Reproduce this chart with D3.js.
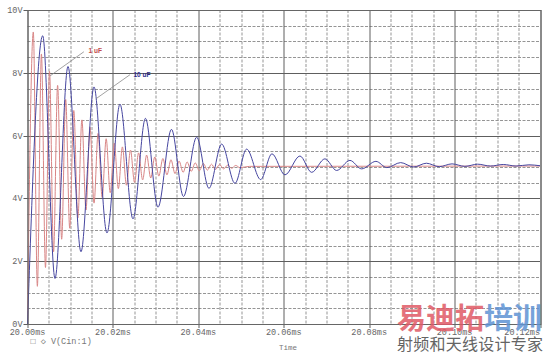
<!DOCTYPE html>
<meta charset="utf-8">
<script src="https://d3js.org/d3.v7.min.js"></script>
<style>
  html, body { margin: 0; padding: 0; background: #fff; }
  svg { display: block; }
</style>
<body>
<div id="my_dataviz"></div>
<script>
  // time in microseconds after 20.00ms, voltage in volts (peaks and troughs)
  var blueTime = [0, 3.56, 6.44, 9.48, 12.52, 15.57, 18.61, 21.65, 24.70, 27.62, 30.55, 33.71, 36.52,
    39.61, 42.49, 45.46, 48.58, 51.31, 54.59, 57.24, 60.28, 63.79, 66.53, 69.64, 72.38, 75.50, 78.24,
    81.58, 84.16, 87.37, 90.40, 93.40, 96.40, 99.40, 102.40, 105.40, 108.40, 111.40, 114.40, 117.40, 120];
  var blueVolt = [0, 9.18, 1.45, 8.20, 2.30, 7.55, 2.90, 7.00, 3.35, 6.55, 3.72, 6.20, 4.06,
    5.95, 4.32, 5.73, 4.48, 5.57, 4.60, 5.42, 4.75, 5.35, 4.83, 5.26, 4.89, 5.21, 4.94,
    5.18, 4.98, 5.14, 5.00, 5.12, 5.01, 5.10, 5.02, 5.09, 5.03, 5.08, 5.03, 5.07, 5.04];

  var redTime = [0, 1.36, 2.31, 3.26, 4.21, 5.15, 6.10, 7.05, 8.00, 8.94, 9.89, 10.84, 11.79, 12.74, 13.69,
    14.63, 15.58, 16.53, 17.48, 18.42, 19.37, 20.32, 21.27, 22.22, 23.17, 24.11, 25.06, 26.01, 26.96,
    27.90, 28.85, 29.80, 30.75, 31.70, 32.65, 33.59, 34.54, 35.49, 36.44, 37.38, 38.33, 39.28, 40.23,
    41.18, 42.13, 43.07, 44.02, 44.97, 45.92, 46.86, 47.81, 48.76, 49.71, 52, 120];
  var redVolt = [0, 9.30, 1.20, 8.60, 1.80, 8.05, 2.30, 7.60, 2.70, 7.15, 3.05, 6.80, 3.38, 6.50, 3.63,
    6.27, 3.85, 6.07, 4.03, 5.90, 4.18, 5.76, 4.31, 5.64, 4.42, 5.54, 4.51, 5.45, 4.59,
    5.38, 4.65, 5.32, 4.71, 5.27, 4.75, 5.23, 4.79, 5.19, 4.83, 5.16, 4.86, 5.13, 4.88,
    5.11, 4.90, 5.09, 4.92, 5.08, 4.94, 5.06, 4.96, 5.05, 4.98, 5.02, 5.03];

  var xTicks = [0, 20, 40, 60, 80, 100, 120];
  var xTickLabels = ["20.00ms", "20.02ms", "20.04ms", "20.06ms", "20.08ms", "20.10ms", "20.12ms"];
  var yTicks = [0, 2, 4, 6, 8, 10];
  var yTickLabels = ["0V", "2V", "4V", "6V", "8V", "10V"];

  var W = 550, H = 356;
  var margin = { top: 10, right: 10, bottom: 32, left: 27.5 },
    width = W - margin.left - margin.right,
    height = H - margin.top - margin.bottom;

  var svg = d3.select("#my_dataviz")
    .append("svg")
    .attr("width", W)
    .attr("height", H)
    .append("g")
    .attr("transform", "translate(" + margin.left + "," + margin.top + ")");

  var x = d3.scaleLinear().domain([0, 120]).range([0, width]);
  var y = d3.scaleLinear().domain([0, 10]).range([height, 0]);

  var minorColor = "#959595", majorColor = "#5e5e5e";

  // minor dashed grid
  svg.append("g").selectAll("line")
    .data(d3.range(0, 120.01, 5).filter(function (d) { return d % 20 != 0; }))
    .enter().append("line")
    .attr("x1", function (d) { return Math.round(x(d)) + 0.5; })
    .attr("x2", function (d) { return Math.round(x(d)) + 0.5; })
    .attr("y1", 0).attr("y2", height)
    .attr("stroke", minorColor).attr("stroke-width", 1)
    .attr("stroke-dasharray", "3,1.5");
  svg.append("g").selectAll("line")
    .data(d3.range(0, 10.01, 0.5).filter(function (d) { return d % 2 != 0; }))
    .enter().append("line")
    .attr("y1", function (d) { return Math.round(y(d)) + 0.5; })
    .attr("y2", function (d) { return Math.round(y(d)) + 0.5; })
    .attr("x1", 0).attr("x2", width)
    .attr("stroke", minorColor).attr("stroke-width", 1)
    .attr("stroke-dasharray", "3,1.5");

  // major solid grid
  svg.append("g").selectAll("line")
    .data(xTicks)
    .enter().append("line")
    .attr("x1", function (d) { return Math.round(x(d)) + 0.5; })
    .attr("x2", function (d) { return Math.round(x(d)) + 0.5; })
    .attr("y1", 0).attr("y2", height + 4)
    .attr("stroke", majorColor).attr("stroke-width", 1);
  svg.append("g").selectAll("line")
    .data(yTicks)
    .enter().append("line")
    .attr("y1", function (d) { return Math.round(y(d)) + 0.5; })
    .attr("y2", function (d) { return Math.round(y(d)) + 0.5; })
    .attr("x1", -4).attr("x2", width)
    .attr("stroke", majorColor).attr("stroke-width", 1);

  // tick labels
  svg.append("g").selectAll("text")
    .data(xTicks)
    .enter().append("text")
    .attr("x", function (d) { return x(d); })
    .attr("y", height + 11)
    .attr("text-anchor", function (d, i) { return i == xTicks.length - 1 ? "end" : "middle"; })
    .style("font-family", "Liberation Mono, monospace")
    .style("font-size", "8.5px")
    .style("fill", "#666")
    .text(function (d, i) { return xTickLabels[i]; });

  svg.append("g").selectAll("text")
    .data(yTicks)
    .enter().append("text")
    .attr("x", -5)
    .attr("y", function (d) { return y(d) + 3; })
    .attr("text-anchor", "end")
    .style("font-family", "Liberation Mono, monospace")
    .style("font-size", "8.5px")
    .style("fill", "#666")
    .text(function (d, i) { return yTickLabels[i]; });

  // traces
  var line = d3.line()
    .x(function (d) { return x(d[0]); })
    .y(function (d) { return y(d[1]); })
    .curve(d3.curveMonotoneX);

  svg.append("path")
    .datum(redTime.map(function (t, i) { return [t, redVolt[i]]; }))
    .attr("d", line)
    .attr("fill", "none")
    .attr("stroke", "#d98686")
    .attr("stroke-width", 1);

  svg.append("path")
    .datum(blueTime.map(function (t, i) { return [t, blueVolt[i]]; }))
    .attr("d", line)
    .attr("fill", "none")
    .attr("stroke", "#4646a0")
    .attr("stroke-width", 1);

  // annotations
  svg.append("line")
    .attr("x1", x(5.27)).attr("y1", y(7.9))
    .attr("x2", x(13.2)).attr("y2", y(8.67))
    .attr("stroke", "#8a8a8a").attr("stroke-width", 0.8);
  svg.append("text")
    .attr("x", x(14.3)).attr("y", y(8.62))
    .style("font-family", "Liberation Sans, Arial, sans-serif")
    .style("font-size", "6.5px").style("font-weight", "bold")
    .style("fill", "#c04a4a")
    .text("1 uF");

  svg.append("line")
    .attr("x1", x(16.0)).attr("y1", y(7.17))
    .attr("x2", x(24.0)).attr("y2", y(7.94))
    .attr("stroke", "#8a8a8a").attr("stroke-width", 0.8);
  svg.append("text")
    .attr("x", x(24.8)).attr("y", y(7.88))
    .style("font-family", "Liberation Sans, Arial, sans-serif")
    .style("font-size", "6.5px").style("font-weight", "bold")
    .style("fill", "#2a2a8a")
    .text("10 uF");

  // plot frame
  svg.append("rect")
    .attr("x", 0.5).attr("y", 0.5)
    .attr("width", Math.round(width)).attr("height", Math.round(height))
    .attr("fill", "none").attr("stroke", "#666").attr("stroke-width", 1);

  // legend and axis title
  svg.append("text")
    .attr("x", 3).attr("y", height + 20)
    .style("font-family", "Liberation Mono, monospace")
    .style("font-size", "8.5px").style("fill", "#777")
    .text("\u25A1 \u25C7 V(Cin:1)");

  svg.append("text")
    .attr("x", x(61)).attr("y", height + 26)
    .attr("text-anchor", "middle")
    .style("font-family", "Liberation Mono, monospace")
    .style("font-size", "7.5px").style("fill", "#777")
    .text("Time");

  // watermark
  var wm = d3.select("svg").append("g").attr("opacity", 0.85);
  var big = wm.append("text")
    .attr("x", 397).attr("y", 329)
    .style("font-family", "Noto Sans CJK SC")
    .style("font-size", "29px").style("font-weight", "bold");
  big.append("tspan").style("fill", "#e05a66").text("易迪拓");
  big.append("tspan").style("fill", "#5f93d4").text("培训");
  wm.append("text")
    .attr("x", 397).attr("y", 350)
    .attr("textLength", 146)
    .style("font-family", "Noto Sans CJK SC")
    .style("font-size", "16px")
    .style("fill", "#4a4a4a")
    .text("射频和天线设计专家");
</script>
</body>
